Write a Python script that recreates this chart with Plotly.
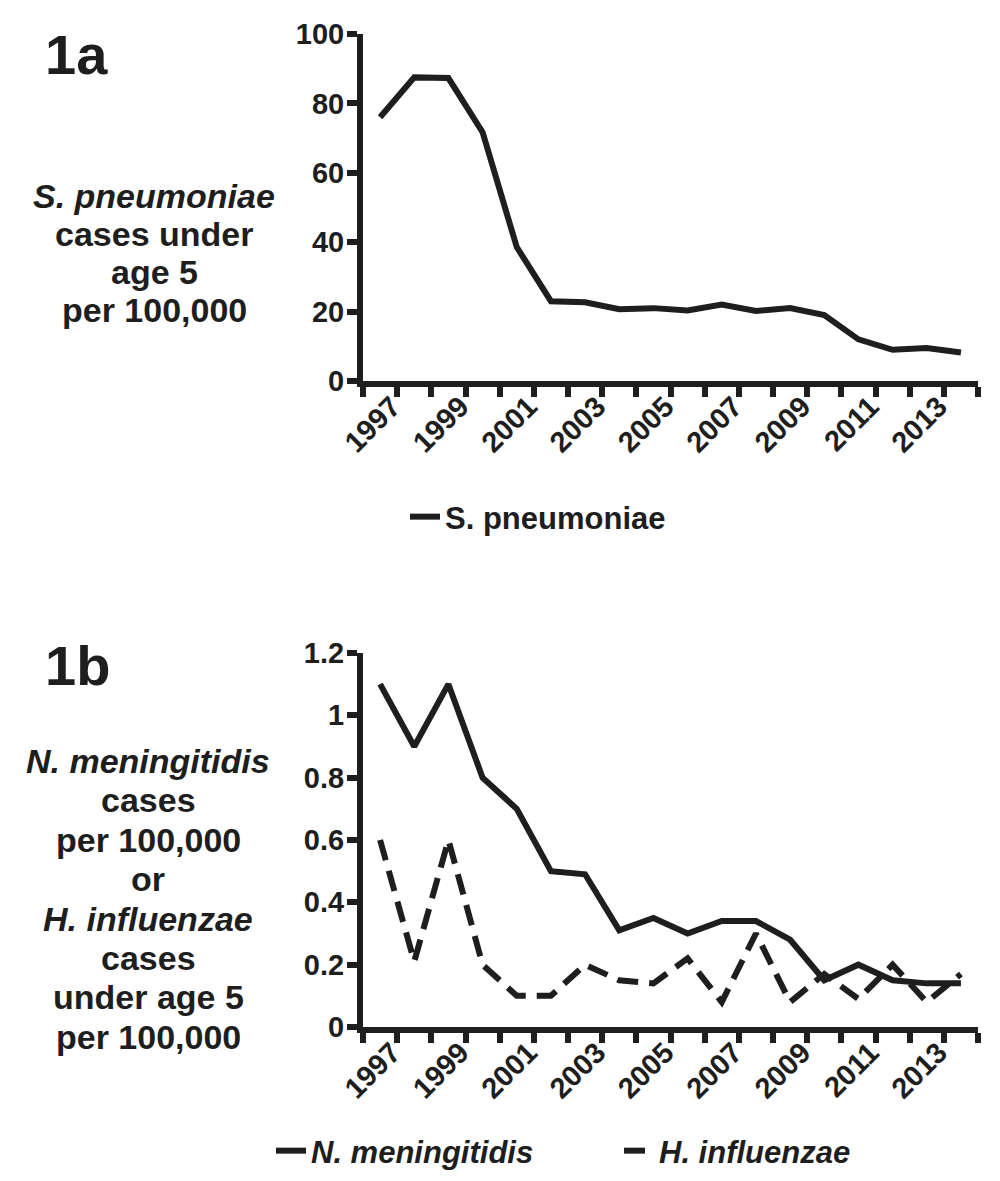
import plotly.graph_objects as go

# ---------------- data ----------------
years = list(range(1997, 2015))
year_labels = [str(y) for y in range(1997, 2015, 2)]
s_pneumoniae = [76.0, 87.5, 87.3, 71.7, 38.6, 23.0, 22.7, 20.7, 21.0, 20.3,
                22.0, 20.2, 21.0, 19.0, 12.0, 9.0, 9.5, 8.2]
n_meningitidis = [1.10, 0.90, 1.10, 0.80, 0.70, 0.50, 0.49, 0.31, 0.35, 0.30,
                  0.34, 0.34, 0.28, 0.15, 0.20, 0.15, 0.14, 0.14]
h_influenzae = [0.60, 0.21, 0.60, 0.20, 0.10, 0.10, 0.20, 0.15, 0.14, 0.22,
                0.08, 0.30, 0.08, 0.17, 0.09, 0.20, 0.08, 0.17]
ya_ticks = [0, 20, 40, 60, 80, 100]
yb_ticks = [0, 0.2, 0.4, 0.6, 0.8, 1.0, 1.2]

# ---------------- styling ----------------
W, H = 1000, 1181
INK = "#1e1e1e"
FONT = "Liberation Sans, Arial, sans-serif"


def px_x(x):
    return x / W


def px_y(y):
    return 1 - y / H


tickfont = dict(family=FONT, size=29, color=INK, weight="bold")
legfont = dict(family=FONT, size=31, color=INK, weight="bold")

fig = go.Figure()
fig.add_trace(go.Scatter(x=years, y=s_pneumoniae, mode="lines", name="S. pneumoniae",
                         line=dict(color=INK, width=6), xaxis="x", yaxis="y",
                         legend="legend"))
fig.add_trace(go.Scatter(x=years, y=n_meningitidis, mode="lines", name="<i>N. meningitidis</i>",
                         line=dict(color=INK, width=6), xaxis="x2", yaxis="y2",
                         legend="legend2"))
fig.add_trace(go.Scatter(x=years, y=h_influenzae, mode="lines", name="<i>H. influenzae</i>",
                         line=dict(color=INK, width=6, dash="21px,11px"), xaxis="x2", yaxis="y2",
                         legend="legend3"))

boundaries = [y - 0.5 for y in years] + [years[-1] + 0.5]


def xaxis_style(anchor):
    return dict(
        domain=[px_x(363), px_x(978)], anchor=anchor,
        range=[years[0] - 0.5, years[-1] + 0.5],
        showline=True, linewidth=6, linecolor=INK,
        tickmode="array", tickvals=[int(t) for t in year_labels], ticktext=year_labels,
        ticks="outside", ticklen=0, tickwidth=0, tickcolor=INK,
        tickangle=-45, tickfont=tickfont, ticklabelstandoff=-9, ticklabelshift=12,
        minor=dict(tickmode="array", tickvals=boundaries, ticks="outside",
                   ticklen=10, tickwidth=6, tickcolor=INK, showgrid=False),
        showgrid=False, zeroline=False, automargin=False, fixedrange=True,
    )


def yaxis_style(anchor, dom, rng, tv):
    return dict(
        domain=dom, anchor=anchor, range=rng,
        tickmode="array", tickvals=tv,
        showline=True, linewidth=6, linecolor=INK,
        ticks="outside", ticklen=10, tickwidth=6, tickcolor=INK,
        tickfont=tickfont, ticklabelstandoff=-3,
        showgrid=False, zeroline=False, automargin=False, fixedrange=True,
    )


fig.update_layout(
    width=W, height=H,
    margin=dict(l=0, r=0, t=0, b=0),
    paper_bgcolor="white", plot_bgcolor="white",
    xaxis=xaxis_style("y"),
    yaxis=yaxis_style("x", [px_y(381), px_y(34)], [0, 100], ya_ticks),
    xaxis2=xaxis_style("y2"),
    yaxis2=yaxis_style("x2", [px_y(1027), px_y(653)], [0, 1.2], yb_ticks),
    showlegend=True,
    legend=dict(x=px_x(405), y=px_y(517), xanchor="left", yanchor="middle",
                orientation="h", font=legfont, bgcolor="rgba(0,0,0,0)", itemwidth=30),
    legend2=dict(x=px_x(271), y=px_y(1151), xanchor="left", yanchor="middle",
                 orientation="h", font=legfont, bgcolor="rgba(0,0,0,0)", itemwidth=30),
    legend3=dict(x=px_x(619), y=px_y(1151), xanchor="left", yanchor="middle",
                 orientation="h", font=legfont, bgcolor="rgba(0,0,0,0)", itemwidth=30),
)

# y-axis titles (horizontal, centred lines) and panel labels
title_a = ["<i>S. pneumoniae</i>", "cases under", "age 5", "per 100,000"]
title_b = ["<i>N. meningitidis</i>", "cases", "per 100,000", "or",
           "<i>H. influenzae</i>", "cases", "under age 5", "per 100,000"]

annots = []
for i, t in enumerate(title_a):
    annots.append(dict(text=t, x=px_x(154), y=px_y(196 + 38 * i), xref="paper", yref="paper",
                       xanchor="center", yanchor="middle", showarrow=False,
                       font=dict(family=FONT, size=34, color=INK, weight="bold")))
for i, t in enumerate(title_b):
    annots.append(dict(text=t, x=px_x(148), y=px_y(761 + 39.4 * i), xref="paper", yref="paper",
                       xanchor="center", yanchor="middle", showarrow=False,
                       font=dict(family=FONT, size=34, color=INK, weight="bold")))
for lab, xc, yc in [("1a", 76, 54), ("1b", 77, 665)]:
    annots.append(dict(text=lab, x=px_x(xc), y=px_y(yc), xref="paper", yref="paper",
                       xanchor="center", yanchor="middle", showarrow=False,
                       font=dict(family=FONT, size=56, color=INK, weight="bold")))
fig.update_layout(annotations=annots)

fig.write_html("out.html", config={"displayModeBar": False},
               post_script="document.body.style.margin='0';")
